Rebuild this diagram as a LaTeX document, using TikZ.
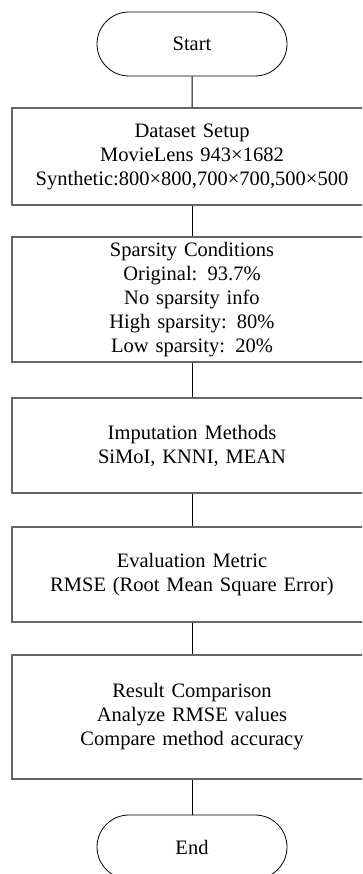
\documentclass[tikz,border=0pt]{standalone}
\usepackage{fontspec}
\setmainfont{Liberation Serif}
\usetikzlibrary{shapes.misc}
\usetikzlibrary{positioning}
\tikzset{
  terminal/.style = {
    rounded rectangle, draw, line width=0.8pt, inner sep = 0pt,
    minimum width = 190pt, minimum height = 64pt }
}

\begin{document}
\begin{tikzpicture}[x=1pt,y=-1pt,
stepbox/.style={draw=black!60,line width=1.2pt,inner sep=0pt,
  text width=360pt,align=center},
link/.style={draw=black,line width=1pt},
every node/.style={font=\fontsize{20.5}{24}\selectfont}]
\useasboundingbox (0,0) rectangle (362,874);
\clip (0,0) rectangle (362,874);

\node[terminal] (start) at (192,44) {Start};

\node[stepbox,minimum height=97pt] (data) at (192,156.5)
 {Dataset Setup\\MovieLens 943×1682\\Synthetic:800×800,700×700,500×500};
\node[stepbox,minimum height=125pt] (sparse) at (192,299.5)
 {Sparsity Conditions\\Original: 93.7\%\\No sparsity info\\High sparsity: 80\%\\Low sparsity: 20\%};
\node[stepbox,minimum height=95pt] (impute) at (192,445.5)
 {Imputation Methods\\SiMoI, KNNI, MEAN};
\node[stepbox,minimum height=95pt] (metric) at (192,574.5)
 {Evaluation Metric\\RMSE (Root Mean Square Error)};
\node[stepbox,minimum height=124pt] (result) at (192,717)
 {Result Comparison\\Analyze RMSE values\\Compare method accuracy};

\node[terminal] (end) at (192,847) {End};

%\draw[->] (start) -- (data);
\foreach \a/\b in {start/data,data/sparse,sparse/impute,impute/metric,metric/result,result/end}{
 \draw[link] (\a) -- (\b);
}
\end{tikzpicture}
\end{document}
